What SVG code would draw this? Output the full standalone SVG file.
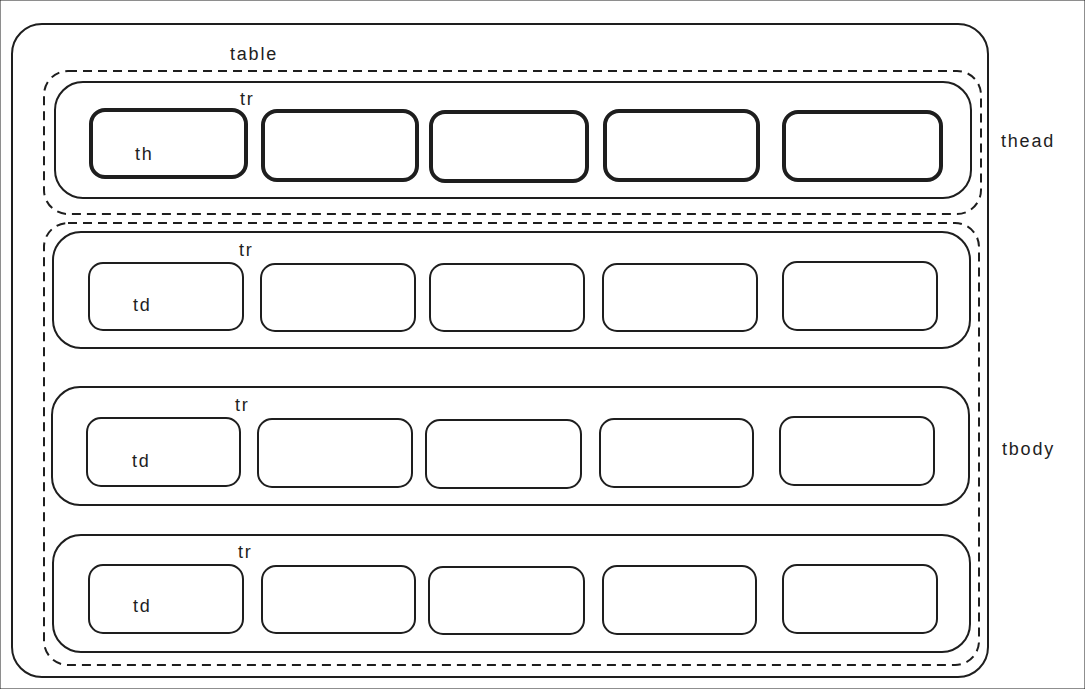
<svg xmlns="http://www.w3.org/2000/svg" width="1085" height="689" viewBox="0 0 1085 689">
<style>
rect{fill:none;stroke:#1e1e1e;stroke-linejoin:round}
.table{stroke-width:2}
.group{stroke-width:2;stroke-dasharray:9 6}
.tr{stroke-width:2}
.th{stroke-width:4}
.td{stroke-width:2}
text{font-family:"Liberation Sans",Arial,sans-serif;font-size:18px;fill:#1e1e1e;letter-spacing:1.8px}
</style>
<rect width="1085" height="689" fill="#ffffff" stroke="none"/>
<g id="table">
<rect class="table" x="12" y="24" width="976" height="653" rx="30"/>
<text x="230" y="60">table</text>
</g>
<g id="thead">
<rect class="group" x="44" y="71" width="937" height="143" rx="24"/>
<text x="1001" y="147">thead</text>
</g>
<g id="tbody">
<rect class="group" x="44" y="223" width="935" height="442" rx="24"/>
<text x="1002" y="455">tbody</text>
</g>
<g id="tr1">
<rect class="tr" x="55" y="82" width="916" height="116" rx="28"/>
<text x="240" y="105">tr</text>
</g>
<g id="th1"><rect class="th" x="91" y="110" width="155" height="67" rx="14"/><text x="135" y="160">th</text></g>
<g id="th2"><rect class="th" x="263" y="111" width="154" height="69" rx="14"/></g>
<g id="th3"><rect class="th" x="431" y="112" width="156" height="69" rx="14"/></g>
<g id="th4"><rect class="th" x="605" y="111" width="153" height="69" rx="14"/></g>
<g id="th5"><rect class="th" x="784" y="112" width="157" height="68" rx="14"/></g>
<g id="tr2">
<rect class="tr" x="53" y="232" width="917" height="116" rx="28"/>
<text x="239" y="256">tr</text>
</g>
<g id="td2-1"><rect class="td" x="89" y="263" width="154" height="67" rx="14"/><text x="133" y="311">td</text></g>
<g id="td2-2"><rect class="td" x="261" y="264" width="154" height="67" rx="14"/></g>
<g id="td2-3"><rect class="td" x="430" y="264" width="154" height="67" rx="14"/></g>
<g id="td2-4"><rect class="td" x="603" y="264" width="154" height="67" rx="14"/></g>
<g id="td2-5"><rect class="td" x="783" y="262" width="154" height="68" rx="14"/></g>
<g id="tr3">
<rect class="tr" x="52" y="387" width="917" height="118" rx="28"/>
<text x="235" y="411">tr</text>
</g>
<g id="td3-1"><rect class="td" x="87" y="418" width="153" height="68" rx="14"/><text x="132" y="467">td</text></g>
<g id="td3-2"><rect class="td" x="258" y="419" width="154" height="68" rx="14"/></g>
<g id="td3-3"><rect class="td" x="426" y="420" width="155" height="68" rx="14"/></g>
<g id="td3-4"><rect class="td" x="600" y="419" width="153" height="68" rx="14"/></g>
<g id="td3-5"><rect class="td" x="780" y="417" width="154" height="68" rx="14"/></g>
<g id="tr4">
<rect class="tr" x="53" y="535" width="917" height="117" rx="28"/>
<text x="238" y="558">tr</text>
</g>
<g id="td4-1"><rect class="td" x="89" y="565" width="154" height="68" rx="14"/><text x="133" y="612">td</text></g>
<g id="td4-2"><rect class="td" x="262" y="566" width="153" height="67" rx="14"/></g>
<g id="td4-3"><rect class="td" x="429" y="567" width="155" height="67" rx="14"/></g>
<g id="td4-4"><rect class="td" x="603" y="566" width="153" height="68" rx="14"/></g>
<g id="td4-5"><rect class="td" x="783" y="565" width="154" height="68" rx="14"/></g>
<g id="connectors"></g>
</svg>
